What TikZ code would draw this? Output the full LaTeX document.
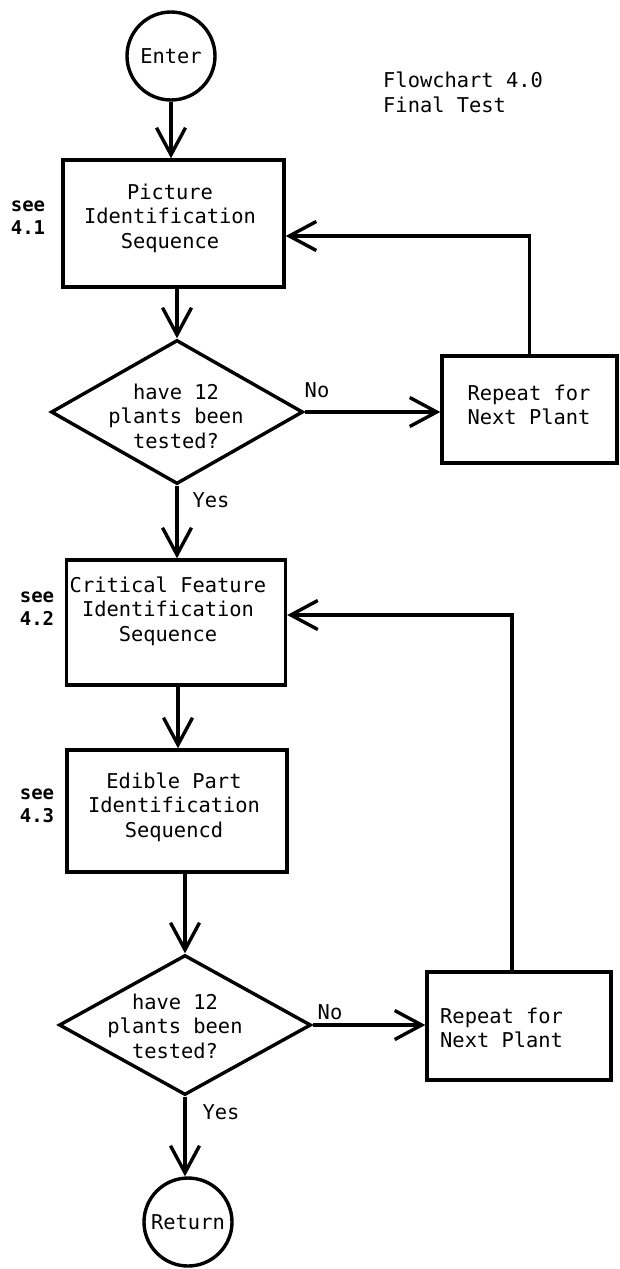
\documentclass[tikz,border=0pt]{standalone}
\usepackage{fontspec}
\setmainfont{DejaVu Sans Mono}
\usetikzlibrary{shapes.geometric,arrows.meta,calc}
\begin{document}
\begin{tikzpicture}[x=1pt,y=-1pt,
  every node/.style={font=\fontsize{20.4}{24.5}\selectfont, inner sep=0pt},
  line/.style={line width=3.4pt},
  arr/.style={line width=3.4pt,-{Straight Barb[length=27pt,width=29pt,line width=3.4pt]}},
  circ/.style={circle, draw, line width=3.4pt, minimum size=88pt},
  box/.style={rectangle, draw, line width=3.4pt},
  dia/.style={diamond, draw, line width=3.4pt, minimum width=252pt},
  txt/.style={align=center},
  see/.style={align=center, font=\fontsize{19}{23}\selectfont\bfseries},
  lab/.style={}
]
\fill[white] (0,0) rectangle (619,1269);
\useasboundingbox (0,0) rectangle (619,1269);

% nodes
\node[circ] (enter) at (171,56) {Enter};
\node[txt, align=left, anchor=west] (title) at (383,92.5) {Flowchart 4.0\\Final Test};

\node[box, minimum width=221pt, minimum height=127pt] (box1) at (173.5,223.5) {};
\node[txt] (box1t) at (170,218) {Picture\\Identification\\Sequence};
\node[see] (see1) at (28,218) {see\\4.1};

\node[dia, minimum height=144pt] (dia1) at (177,412) {};
\node[txt] (dia1t) at (176,416) {have 12\\plants been\\tested?};

\node[box, minimum width=175pt, minimum height=107pt] (rep1) at (529.5,409.5) {};
\node[txt, align=left] (rep1t) at (529,405) {Repeat for\\Next Plant};

\node[box, minimum width=219pt, minimum height=125pt] (box2) at (176,622.5) {};
\node[txt] (box2t) at (168,611) {Critical Feature\\Identification\\Sequence};
\node[see] (see2) at (37,609) {see\\4.2};

\node[box, minimum width=220pt, minimum height=122pt] (box3) at (177,811) {};
\node[txt] (box3t) at (174,807) {Edible Part\\Identification\\Sequencd};
\node[see] (see3) at (37,806) {see\\4.3};

\node[dia, minimum height=140pt] (dia2) at (185,1025) {};
\node[txt] (dia2t) at (175,1026) {have 12\\plants been\\tested?};

\node[box, minimum width=184pt, minimum height=108pt] (rep2) at (519,1026) {};
\node[txt, align=left, anchor=west] (rep2t) at (440,1028) {Repeat for\\Next Plant};

\node[circ] (ret) at (188,1222) {Return};

% labels
\node[lab] (no1) at (317,390) {No};
\node[lab] (yes1) at (211,500) {Yes};
\node[lab] (no2) at (330,1012) {No};
\node[lab] (yes2) at (221,1112) {Yes};

% connectors
\draw[arr] (enter) -- (enter |- box1.north);
\draw[arr] (dia1.north |- box1.south) -- (dia1.north);
\draw[arr] (dia1.south) -- (dia1.south |- box2.north);
\draw[arr] (dia1.east) -- (dia1.east -| rep1.west);
\coordinate (j1) at (529.5,236);
\draw[arr] (rep1.north) -- (j1) -- (j1 -| box1.east);
\coordinate (k2) at (178,685);
\draw[arr] (k2) -- (k2 |- box3.north);
\draw[arr] (dia2.north |- box3.south) -- (dia2.north);
\draw[arr] (dia2.east) -- (dia2.east -| rep2.west);
\coordinate (j2) at (512,615);
\draw[arr] (rep2.north -| j2) -- (j2) -- (j2 -| box2.east);
\draw[arr] (dia2.south) -- (dia2.south |- ret.north);
\end{tikzpicture}
\end{document}
